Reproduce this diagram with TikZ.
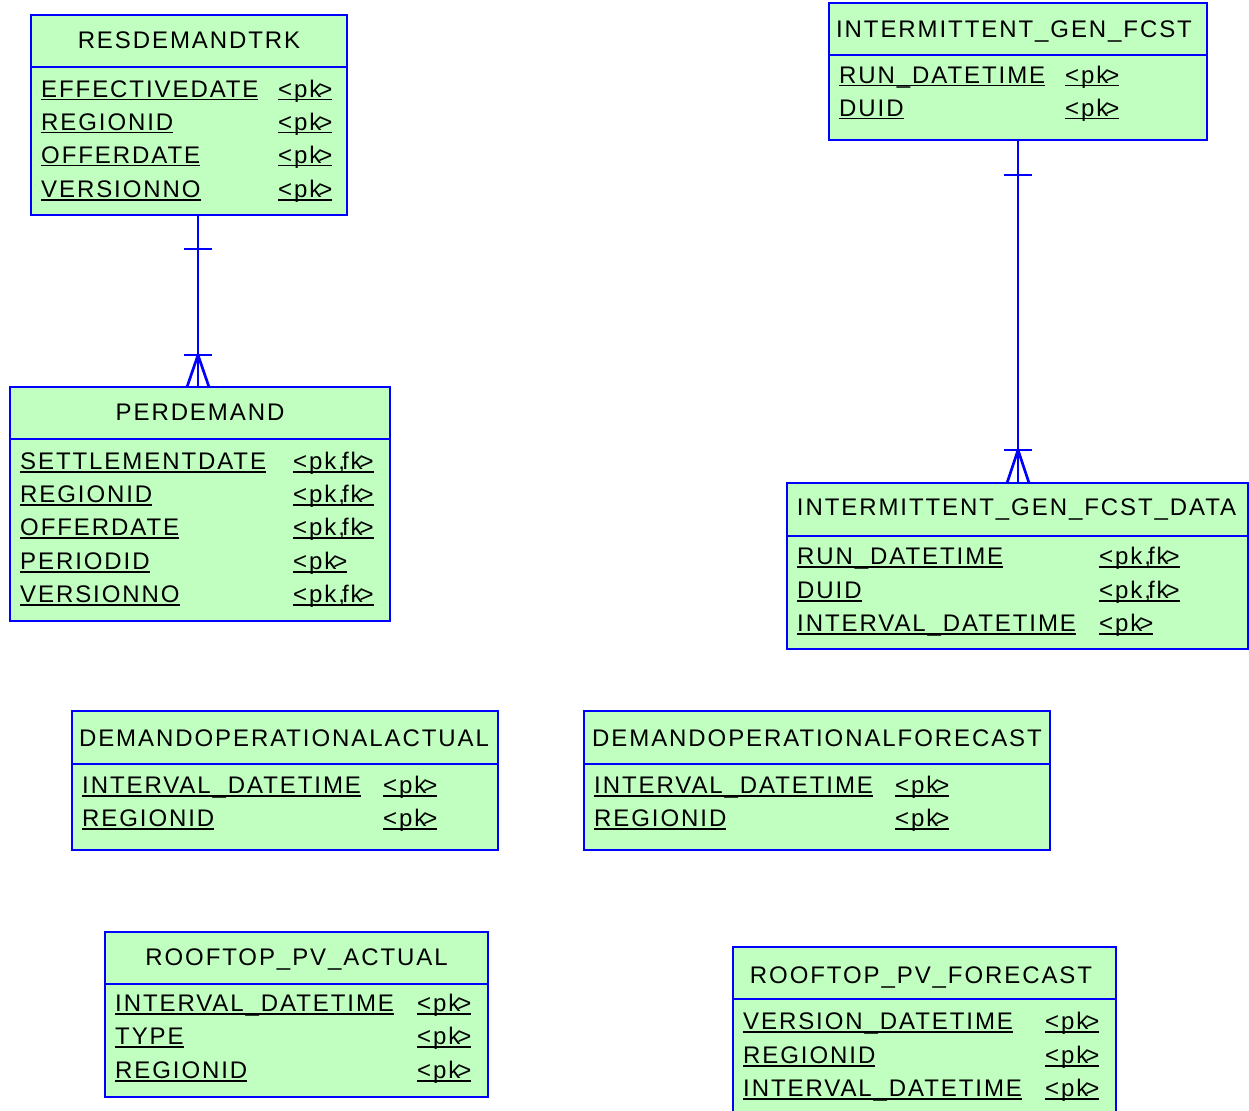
\documentclass[tikz,border=0pt]{standalone}
\usepackage{fontspec}
\setmainfont{Liberation Sans}[LetterSpace=8]
\definecolor{tblfill}{RGB}{192,255,192}
\definecolor{tblblue}{RGB}{0,0,255}
\newcommand\myul[1]{\setbox0=\hbox{#1}\rlap{\rule[-3.0pt]{\wd0}{1.6pt}}\box0}
\newcommand\pkt{\myul{<pk\kern-3pt>}}
\newcommand\pkfkt{\myul{<pk,\kern-3pt fk\kern-3pt>}}
\tikzset{
  tbl/.style={draw=tblblue, fill=tblfill, line width=2.7pt, inner sep=0pt, outer sep=0pt},
  bdr/.style={draw=tblblue, line width=2.7pt},
  conn/.style={draw=tblblue, line width=2.7pt},
  ttl/.style={anchor=base, inner sep=0pt, font=\fontsize{24}{28}\selectfont},
  att/.style={anchor=base west, inner sep=0pt, font=\fontsize{24}{28}\selectfont},
}
\begin{document}
\begin{tikzpicture}[x=1pt,y=-1pt]
\useasboundingbox (0,0) rectangle (1249,1110);
\clip (0,0) rectangle (1249,1110);

% RESDEMANDTRK
\node[tbl, minimum width=316, minimum height=200] (resdem) at (189,115) {};
\draw[bdr] ([yshift=-52pt]resdem.north west) -- ([yshift=-52pt]resdem.north east);
\node[ttl] (resdemT) at (189,48.5) {RESDEMANDTRK};
\node[att] (rd1) at (41,97.5) {\myul{EFFECTIVEDATE}};
\node[att] (rd1k) at (278,97.5) {\pkt};
\node[att] (rd2) at (41,130.5) {\myul{REGIONID}};
\node[att] (rd2k) at (278,130.5) {\pkt};
\node[att] (rd3) at (41,163.5) {\myul{OFFERDATE}};
\node[att] (rd3k) at (278,163.5) {\pkt};
\node[att] (rd4) at (41,197.5) {\myul{VERSIONNO}};
\node[att] (rd4k) at (278,197.5) {\pkt};

% PERDEMAND
\node[tbl, minimum width=380, minimum height=234] (perdem) at (200,504) {};
\draw[bdr] ([yshift=-52pt]perdem.north west) -- ([yshift=-52pt]perdem.north east);
\node[ttl] (perdemT) at (200,420.5) {PERDEMAND};
\node[att] (pd1) at (20,469.5) {\myul{SETTLEMENTDATE}};
\node[att] (pd1k) at (293,469.5) {\pkfkt};
\node[att] (pd2) at (20,502.5) {\myul{REGIONID}};
\node[att] (pd2k) at (293,502.5) {\pkfkt};
\node[att] (pd3) at (20,535.5) {\myul{OFFERDATE}};
\node[att] (pd3k) at (293,535.5) {\pkfkt};
\node[att] (pd4) at (20,569.5) {\myul{PERIODID}};
\node[att] (pd4k) at (293,569.5) {\pkt};
\node[att] (pd5) at (20,602.5) {\myul{VERSIONNO}};
\node[att] (pd5k) at (293,602.5) {\pkfkt};

% INTERMITTENT_GEN_FCST
\node[tbl, minimum width=378, minimum height=137] (igf) at (1018,71.5) {};
\draw[bdr] ([yshift=-52pt]igf.north west) -- ([yshift=-52pt]igf.north east);
\node[ttl] (igfT) at (1014,37.5) {INTERMITTENT\_GEN\_FCST};
\node[att] (ig1) at (839,83.5) {\myul{RUN\_DATETIME}};
\node[att] (ig1k) at (1065,83.5) {\pkt};
\node[att] (ig2) at (839,116.5) {\myul{DUID}};
\node[att] (ig2k) at (1065,116.5) {\pkt};

% INTERMITTENT_GEN_FCST_DATA
\node[tbl, minimum width=461, minimum height=166] (igfd) at (1017.5,566) {};
\draw[bdr] ([yshift=-53pt]igfd.north west) -- ([yshift=-53pt]igfd.north east);
\node[ttl] (igfdT) at (1016.5,515.5) {INTERMITTENT\_GEN\_FCST\_DATA};
\node[att] (id1) at (797,564.5) {\myul{RUN\_DATETIME}};
\node[att] (id1k) at (1099,564.5) {\pkfkt};
\node[att] (id2) at (797,598.5) {\myul{DUID}};
\node[att] (id2k) at (1099,598.5) {\pkfkt};
\node[att] (id3) at (797,631.5) {\myul{INTERVAL\_DATETIME}};
\node[att] (id3k) at (1099,631.5) {\pkt};

% DEMANDOPERATIONALACTUAL
\node[tbl, minimum width=426, minimum height=139] (doa) at (285,780.5) {};
\draw[bdr] ([yshift=-53pt]doa.north west) -- ([yshift=-53pt]doa.north east);
\node[ttl] (doaT) at (284,746.5) {DEMANDOPERATIONALACTUAL};
\node[att] (da1) at (82,793.5) {\myul{INTERVAL\_DATETIME}};
\node[att] (da1k) at (383,793.5) {\pkt};
\node[att] (da2) at (82,826.5) {\myul{REGIONID}};
\node[att] (da2k) at (383,826.5) {\pkt};

% DEMANDOPERATIONALFORECAST
\node[tbl, minimum width=466, minimum height=139] (dof) at (817,780.5) {};
\draw[bdr] ([yshift=-53pt]dof.north west) -- ([yshift=-53pt]dof.north east);
\node[ttl] (dofT) at (817,746.5) {DEMANDOPERATIONALFORECAST};
\node[att] (df1) at (594,793.5) {\myul{INTERVAL\_DATETIME}};
\node[att] (df1k) at (895,793.5) {\pkt};
\node[att] (df2) at (594,826.5) {\myul{REGIONID}};
\node[att] (df2k) at (895,826.5) {\pkt};

% ROOFTOP_PV_ACTUAL
\node[tbl, minimum width=383, minimum height=165] (rpa) at (296.5,1014.5) {};
\draw[bdr] ([yshift=-52pt]rpa.north west) -- ([yshift=-52pt]rpa.north east);
\node[ttl] (rpaT) at (296.5,965.5) {ROOFTOP\_PV\_ACTUAL};
\node[att] (ra1) at (115,1011.5) {\myul{INTERVAL\_DATETIME}};
\node[att] (ra1k) at (417,1011.5) {\pkt};
\node[att] (ra2) at (115,1044.5) {\myul{TYPE}};
\node[att] (ra2k) at (417,1044.5) {\pkt};
\node[att] (ra3) at (115,1078.5) {\myul{REGIONID}};
\node[att] (ra3k) at (417,1078.5) {\pkt};

% ROOFTOP_PV_FORECAST
\node[tbl, minimum width=383, minimum height=178] (rpf) at (924.5,1036) {};
\draw[bdr] ([yshift=-52pt]rpf.north west) -- ([yshift=-52pt]rpf.north east);
\node[ttl] (rpfT) at (921,983.5) {ROOFTOP\_PV\_FORECAST};
\node[att] (rf1) at (743,1029.5) {\myul{VERSION\_DATETIME}};
\node[att] (rf1k) at (1045,1029.5) {\pkt};
\node[att] (rf2) at (743,1063.5) {\myul{REGIONID}};
\node[att] (rf2k) at (1045,1063.5) {\pkt};
\node[att] (rf3) at (743,1096.5) {\myul{INTERVAL\_DATETIME}};
\node[att] (rf3k) at (1045,1096.5) {\pkt};

% connector RESDEMANDTRK -> PERDEMAND
\coordinate (c1a) at ([xshift=9pt]resdem.south);
\coordinate (c1b) at ([xshift=-2pt]perdem.north);
\draw[conn] (c1a) -- (c1a |- c1b);
\draw[conn] ([yshift=-34pt]c1a) ++(-14pt,0) -- ++(28pt,0);
\draw[conn] (c1a |- c1b) ++(0,32pt) ++(-14pt,0) -- ++(28pt,0);
\draw[conn] (c1a |- c1b) ++(-11pt,0) -- ++(11pt,32pt) -- ++(11pt,-32pt);

% connector INTERMITTENT_GEN_FCST -> DATA
\coordinate (c2a) at (igf.south);
\coordinate (c2b) at (igfd.north);
\draw[conn] (c2a) -- (c2a |- c2b);
\draw[conn] ([yshift=-35pt]c2a) ++(-14pt,0) -- ++(28pt,0);
\draw[conn] (c2a |- c2b) ++(0,33pt) ++(-14pt,0) -- ++(28pt,0);
\draw[conn] (c2a |- c2b) ++(-11pt,0) -- ++(11pt,33pt) -- ++(11pt,-33pt);
\end{tikzpicture}
\end{document}
